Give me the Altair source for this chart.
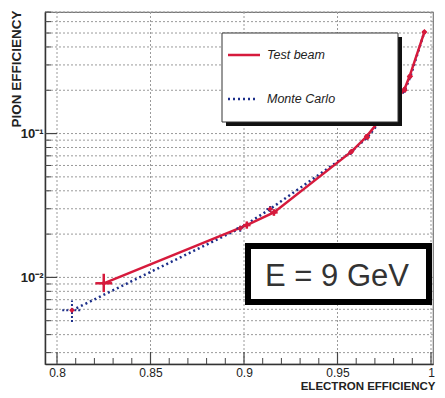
import altair as alt
import pandas as pd

# ---- data ----
tb_x = [0.825, 0.9015, 0.916, 0.9576, 0.9655, 0.9858, 0.9885, 0.9964]
tb_y = [0.0091, 0.0231, 0.0283, 0.0752, 0.0953, 0.203, 0.249, 0.506]
tb_xerr = [0.0045, 0.002, 0.002, 0.001, 0.001, 0.001, 0.001, 0.001]
tb_ylo = [0.0079, 0.0218, 0.0268, 0.0725, 0.092, 0.195, 0.240, 0.49]
tb_yhi = [0.0106, 0.0245, 0.0298, 0.078, 0.099, 0.211, 0.258, 0.52]

mc_x = [0.808, 0.898, 0.914, 0.957, 0.966, 0.986, 0.989, 0.9965]
mc_y = [0.0059, 0.0220, 0.0299, 0.074, 0.094, 0.200, 0.250, 0.51]
mc_xerr = [0.0052, 0.002, 0.002, 0.001, 0.001, 0.001, 0.001, 0.001]
mc_ylo = [0.0049, 0.0208, 0.0285, 0.071, 0.091, 0.193, 0.242, 0.495]
mc_yhi = [0.0069, 0.0232, 0.0314, 0.077, 0.097, 0.207, 0.258, 0.525]

x_major = [0.8, 0.85, 0.9, 0.95, 1.0]
x_minor = [0.81, 0.82, 0.83, 0.84, 0.86, 0.87, 0.88, 0.89, 0.91, 0.92, 0.93,
           0.94, 0.96, 0.97, 0.98, 0.99]
y_major = [0.01, 0.1]
y_minor = [0.003, 0.004, 0.005, 0.006, 0.007, 0.008, 0.009,
           0.02, 0.03, 0.04, 0.05, 0.06, 0.07, 0.08, 0.09,
           0.2, 0.3, 0.4, 0.5, 0.6, 0.7]

X_DOMAIN = [0.79358, 1.00107]
Y_DOMAIN = [0.0025, 0.7]

RED = "#d61a3c"
BLUE = "#1c2f8a"
FONT = "Liberation Sans"

W, H = 388, 352

xs = alt.Scale(domain=X_DOMAIN, nice=False, zero=False)
ys = alt.Scale(type="log", domain=Y_DOMAIN, nice=False)

xa = alt.Axis(values=x_major, format="~g", ticks=False, grid=False,
              domainColor="#333", domainWidth=1.5, labelFont=FONT,
              labelFontSize=12, labelColor="#222", labelPadding=3,
              title="ELECTRON EFFICIENCY", titleFont=FONT, titleFontSize=11.5,
              titleFontWeight="bold", titleColor="#222", titleAnchor="end",
              titleAlign="right", titleX=W + 2, titleY=16, titleBaseline="top")
ya = alt.Axis(values=y_major, labelExpr="datum.value > 0.05 ? '10⁻¹' : '10⁻²'",
              ticks=False, grid=False, domainColor="#333", domainWidth=1.5,
              labelFont=FONT, labelFontSize=13, labelFontWeight="bold",
              labelColor="#222", labelPadding=2,
              title="PION EFFICIENCY", titleFont=FONT, titleFontSize=13.5,
              titleFontWeight="bold", titleColor="#222", titleAngle=270,
              titleAlign="right", titleBaseline="alphabetic", titleX=-25, titleY=-2)

X = lambda f: alt.X(f, type="quantitative", scale=xs, axis=xa)
Y = lambda f: alt.Y(f, type="quantitative", scale=ys, axis=ya)

tb = pd.DataFrame({"x": tb_x, "y": tb_y,
                   "xl": [a - e for a, e in zip(tb_x, tb_xerr)],
                   "xh": [a + e for a, e in zip(tb_x, tb_xerr)],
                   "yl": tb_ylo, "yh": tb_yhi})
mc = pd.DataFrame({"x": mc_x, "y": mc_y,
                   "xl": [a - e for a, e in zip(mc_x, mc_xerr)],
                   "xh": [a + e for a, e in zip(mc_x, mc_xerr)],
                   "yl": mc_ylo, "yh": mc_yhi})

one = pd.DataFrame({"a": [0]})

# grid
ygrid = alt.Chart(pd.DataFrame({"y": y_minor + y_major})).mark_rule(
    stroke="#9a9a9a", strokeDash=[2, 2], strokeWidth=1).encode(y=Y("y"))
xgrid = alt.Chart(pd.DataFrame({"x": x_major})).mark_rule(
    stroke="#9a9a9a", strokeDash=[2, 2], strokeWidth=1).encode(x=X("x"))

# inward ticks
ytick_min = alt.Chart(pd.DataFrame({"y": y_minor})).mark_rule(
    stroke="#444", strokeWidth=1).encode(y=Y("y"), x=alt.value(0), x2=alt.value(6))
ytick_maj = alt.Chart(pd.DataFrame({"y": y_major})).mark_rule(
    stroke="#444", strokeWidth=1.2).encode(y=Y("y"), x=alt.value(0), x2=alt.value(12))
xtick_min = alt.Chart(pd.DataFrame({"x": x_minor})).mark_rule(
    stroke="#444", strokeWidth=1).encode(x=X("x"), y=alt.value(H), y2=alt.value(H - 6))
xtick_maj = alt.Chart(pd.DataFrame({"x": x_major})).mark_rule(
    stroke="#444", strokeWidth=1.2).encode(x=X("x"), y=alt.value(H), y2=alt.value(H - 12))

# Monte Carlo
mc_line = alt.Chart(mc).mark_line(color=BLUE, strokeDash=[2, 3], strokeWidth=2.5).encode(
    x=X("x"), y=Y("y"))
mc_ex = alt.Chart(mc).mark_rule(color=BLUE, strokeWidth=2, strokeDash=[2, 2]).encode(
    x=X("xl"), x2="xh", y=Y("y"))
mc_ey = alt.Chart(mc).mark_rule(color=BLUE, strokeWidth=2, strokeDash=[2, 2]).encode(
    x=X("x"), y=Y("yl"), y2="yh")

# Test beam
tb_line = alt.Chart(tb).mark_line(color=RED, strokeWidth=2.5).encode(
    x=X("x"), y=Y("y"))
tb_ex = alt.Chart(tb).mark_rule(color=RED, strokeWidth=2.5).encode(
    x=X("xl"), x2="xh", y=Y("y"))
tb_ey = alt.Chart(tb).mark_rule(color=RED, strokeWidth=2.5).encode(
    x=X("x"), y=Y("yl"), y2="yh")
mc_pt = alt.Chart(mc).mark_point(shape="diamond", filled=True, color=RED, size=30, opacity=1).encode(
    x=X("x"), y=Y("y"))
tb_pt = alt.Chart(tb).mark_point(shape="diamond", filled=True, color=RED, size=30, opacity=1).encode(
    x=X("x"), y=Y("y"))

# legend box (with shadow)
L_X0, L_X1, L_Y0, L_Y1 = 177, 353, 21, 110
leg_shadow = alt.Chart(one).mark_rect(color="#111").encode(
    x=alt.value(L_X0 + 4), x2=alt.value(L_X1 + 4), y=alt.value(L_Y0 + 4), y2=alt.value(L_Y1 + 4))
leg_box = alt.Chart(one).mark_rect(fill="white", stroke="#333", strokeWidth=1).encode(
    x=alt.value(L_X0), x2=alt.value(L_X1), y=alt.value(L_Y0), y2=alt.value(L_Y1))
leg_l1 = alt.Chart(one).mark_rule(color=RED, strokeWidth=2.5).encode(
    x=alt.value(183), x2=alt.value(215), y=alt.value(43))
leg_l2 = alt.Chart(one).mark_rule(color=BLUE, strokeWidth=2.5, strokeDash=[2, 3]).encode(
    x=alt.value(183), x2=alt.value(213), y=alt.value(87))
leg_t1 = alt.Chart(one).mark_text(text="Test beam", font=FONT, fontSize=12.5, fontStyle="italic",
                                  color="#222", align="left", baseline="middle").encode(
    x=alt.value(222), y=alt.value(43))
leg_t2 = alt.Chart(one).mark_text(text="Monte Carlo", font=FONT, fontSize=12.5, fontStyle="italic",
                                  color="#222", align="left", baseline="middle").encode(
    x=alt.value(222), y=alt.value(87))

# E = 9 GeV box
e_box = alt.Chart(one).mark_rect(fill="white", stroke="black", strokeWidth=6).encode(
    x=alt.value(203), x2=alt.value(384), y=alt.value(234), y2=alt.value(290))
e_txt = alt.Chart(one).mark_text(text="E = 9 GeV", font=FONT, fontSize=31, color="#333",
                                 align="center", baseline="alphabetic").encode(
    x=alt.value(292), y=alt.value(274))

chart = alt.layer(
    ygrid, xgrid, ytick_min, ytick_maj, xtick_min, xtick_maj,
    mc_line, tb_line, mc_ex, mc_ey, tb_ex, tb_ey, mc_pt, tb_pt,
    leg_shadow, leg_box, leg_l1, leg_l2, leg_t1, leg_t2,
    e_box, e_txt
).properties(
    width=W, height=H,
    autosize=alt.AutoSizeParams(type="none"),
    padding={"left": 37, "top": 4, "right": 4, "bottom": 26},
    background="white",
).configure_view(stroke="#777", strokeWidth=1.2)

chart.save("out.html", embed_options={"renderer": "svg", "actions": False})
